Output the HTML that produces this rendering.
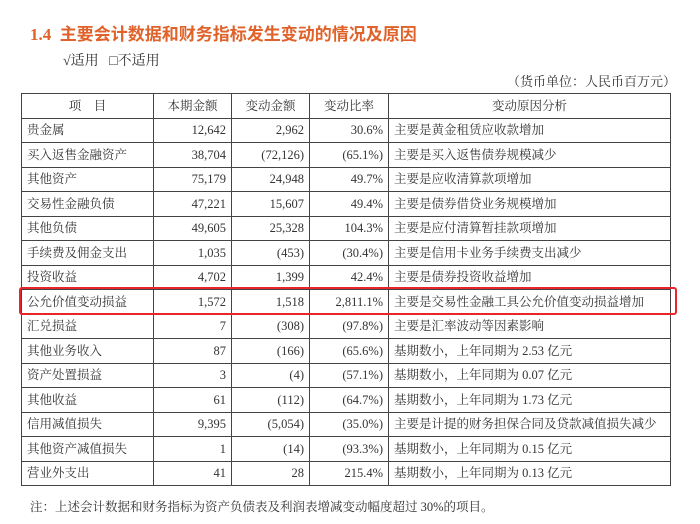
<!DOCTYPE html><html><head><meta charset="utf-8"><style>
body{margin:0;width:700px;height:524px;background:#fff;position:relative;font-family:"Liberation Serif","Noto Serif CJK SC",serif;color:#333;overflow:hidden}
.t{position:absolute;white-space:nowrap}
table{position:absolute;left:21px;top:93px;border-collapse:collapse;width:650px;height:393px;font-size:12.5px}
td{border:1px solid #444;padding:0 5px;line-height:20px;white-space:nowrap}
tr:first-child td{text-align:center}
td:nth-child(2),td:nth-child(3),td:nth-child(4){text-align:right}
</style></head><body>
<div class="t" style="left:30px;top:20px;font-size:17px;font-weight:bold;color:#e0622a;font-family:'Liberation Serif','Noto Sans CJK SC',sans-serif">1.4&nbsp; 主要会计数据和财务指标发生变动的情况及原因</div>
<div class="t" style="left:63px;top:50px;font-size:14px">√适用&nbsp;&nbsp;&nbsp;□不适用</div>
<div class="t" style="left:507px;top:71px;font-size:13px">（货币单位：人民币百万元）</div>
<table>
<colgroup><col style="width:132px"><col style="width:78px"><col style="width:78px"><col style="width:79px"><col></colgroup>
<tr><td>项&nbsp;&nbsp;&nbsp;&nbsp;目</td><td>本期金额</td><td>变动金额</td><td>变动比率</td><td>变动原因分析</td></tr>
<tr><td>贵金属</td><td>12,642</td><td>2,962</td><td>30.6%</td><td>主要是黄金租赁应收款增加</td></tr>
<tr><td>买入返售金融资产</td><td>38,704</td><td>(72,126)</td><td>(65.1%)</td><td>主要是买入返售债券规模减少</td></tr>
<tr><td>其他资产</td><td>75,179</td><td>24,948</td><td>49.7%</td><td>主要是应收清算款项增加</td></tr>
<tr><td>交易性金融负债</td><td>47,221</td><td>15,607</td><td>49.4%</td><td>主要是债券借贷业务规模增加</td></tr>
<tr><td>其他负债</td><td>49,605</td><td>25,328</td><td>104.3%</td><td>主要是应付清算暂挂款项增加</td></tr>
<tr><td>手续费及佣金支出</td><td>1,035</td><td>(453)</td><td>(30.4%)</td><td>主要是信用卡业务手续费支出减少</td></tr>
<tr><td>投资收益</td><td>4,702</td><td>1,399</td><td>42.4%</td><td>主要是债券投资收益增加</td></tr>
<tr><td>公允价值变动损益</td><td>1,572</td><td>1,518</td><td>2,811.1%</td><td>主要是交易性金融工具公允价值变动损益增加</td></tr>
<tr><td>汇兑损益</td><td>7</td><td>(308)</td><td>(97.8%)</td><td>主要是汇率波动等因素影响</td></tr>
<tr><td>其他业务收入</td><td>87</td><td>(166)</td><td>(65.6%)</td><td>基期数小，上年同期为 2.53 亿元</td></tr>
<tr><td>资产处置损益</td><td>3</td><td>(4)</td><td>(57.1%)</td><td>基期数小，上年同期为 0.07 亿元</td></tr>
<tr><td>其他收益</td><td>61</td><td>(112)</td><td>(64.7%)</td><td>基期数小，上年同期为 1.73 亿元</td></tr>
<tr><td>信用减值损失</td><td>9,395</td><td>(5,054)</td><td>(35.0%)</td><td>主要是计提的财务担保合同及贷款减值损失减少</td></tr>
<tr><td>其他资产减值损失</td><td>1</td><td>(14)</td><td>(93.3%)</td><td>基期数小，上年同期为 0.15 亿元</td></tr>
<tr><td>营业外支出</td><td>41</td><td>28</td><td>215.4%</td><td>基期数小，上年同期为 0.13 亿元</td></tr>
</table>
<div style="position:absolute;left:19px;top:287px;width:654px;height:24px;border:2.5px solid #e8262a;border-radius:3px"></div>
<div class="t" style="left:30px;top:497px;font-size:12.5px">注：上述会计数据和财务指标为资产负债表及利润表增减变动幅度超过 30%的项目。</div>
</body></html>
